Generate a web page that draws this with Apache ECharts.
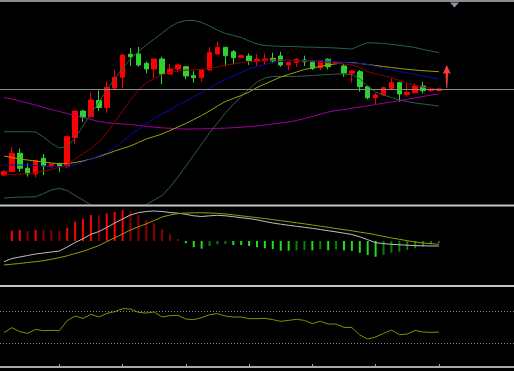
<!DOCTYPE html>
<html>
<head>
<meta charset="utf-8">
<script src="https://cdn.jsdelivr.net/npm/echarts@6/dist/echarts.min.js"></script>
<style>
html,body{margin:0;padding:0;background:#000;}
#c{width:514px;height:371px;}
</style>
</head>
<body>
<div id="c"></div>
<script>
// ---- data ----
const categories = ['1','2','3','4','5','6','7','8','9','10','11','12','13','14','15','16','17','18','19','20','21','22','23','24','25','26','27','28','29','30','31','32','33','34','35','36','37','38','39','40','41','42','43','44','45','46','47','48','49','50','51','52','53','54','55','56'];
const futureCats = ['F1','F2','F3','F4','F5','F6','F7','F8','F9'];

const openP  = [29,32.3,50.7,35.7,30,45.7,37.3,39.7,37.3,66.5,93,87.3,103.5,96.5,116,126.7,149.7,150,140.7,135,145,130,135,137.3,128.3,126.3,134,150,156.7,152.3,146.7,148,143.3,143.3,145.7,148,139,141.7,144,143.3,136.3,144.7,140.7,138,130.7,132.3,117.3,106.3,109,115.7,121.3,109.7,111.3,118,113.3,113.3];
const closeP = [32.3,50.7,35.7,30,43.3,38,40,37.3,67.3,93,86.7,104,96.5,116.7,126.7,149,147.3,139,135,145,130,135,139,128,126.3,134,151.3,156.7,148.3,146.3,148.3,143.3,144.7,145,143,139,141.7,144.7,142.3,135.7,143.3,137.3,141.7,131,133,117.3,106.3,109,116.3,121.3,110,111.7,118,113.3,114.7,115];
const lowP   = [28,32,32.3,27.3,26.7,29,36.5,32.3,36,60,82,87,93,91.3,114,116,138.3,137.3,130.7,125.7,120,129.5,132.3,124.7,121.3,122.3,133.5,149.5,138,139.7,146.5,139,138,139,140.7,137.3,134,137.3,138,134,134,134.7,140,127.3,121.3,112.3,104.7,100,108.5,114,102.3,107.3,110.7,110.7,112.3,113];
const highP  = [34,57,55.5,40.7,44,50,41,41.3,67.5,93,94,111.5,113.3,122.3,134,150,156,157,142.3,145,147.3,140,140.7,137.5,133.3,134.5,156.7,162.3,157,154,149.5,150.7,150,150.7,151.3,152.3,142,145.7,148.3,144,144,145.7,142.3,140,134,134,118,110.7,117.3,125.7,122.3,120.7,120.7,122.3,116.3,116];

const maFast = [29,29.5,30,30.5,31,33,34.5,36.7,39.5,45,50.5,55.5,62,71,82,93,104,114,121,125.5,129.5,131.7,133,134,134.3,134.5,135.5,137,139,140,141.5,142.5,142.5,143.5,144,144,144,143.5,143,142.5,141.7,141.2,140.7,140,139,136.5,132.3,130.2,128.3,126.2,123.4,120.7,118.5,117,115.7,114.5];
const bbMid  = [39,39,39,39,38.5,38,37.7,37.3,37.5,39,42,45,48,51.5,56.5,62.5,69,74.5,80,85.5,90,94,99,103,107.5,111.5,116,120.5,124.5,128,131.5,135,137.5,139.5,141.5,142.5,143,143.3,143.3,143.3,143.3,143,142.3,141.5,141,140.5,139.5,137.5,135.5,134,132.5,131,129.5,128,126.5,125];
const maMid  = [48,46.5,45,44,43,42,41,40.3,40.5,41.5,43,45,47.5,50,53,55.5,58,61.5,65,67.5,70,73.5,77,80.5,84.5,88.5,93,98,102.5,105.5,108.5,112,116.5,120,123.5,127,129.5,132,134.5,136,137.5,139,140.2,141.5,141.5,140.5,139.5,138.5,137.5,136.5,135.5,134.7,134,133.3,132.8,132.3];
const maSlow = [106.5,105,103,101,99,96.5,94.5,92.5,90.5,88.5,86.5,84.5,82.5,81.3,80.5,80,79.5,78.5,77.5,76.8,76.2,75.7,75.2,75,75,75.2,75.4,75.6,75.9,76.3,76.8,77.3,78,79,80,81,82,83.5,85.5,87.5,89.7,92,93.5,94.5,95.8,97,98.2,99.5,100.8,102,103.3,104.7,106,107.5,108.8,110];
const bbUpper = [72.3,72.3,72.3,72.3,72,67,60.7,56,57.5,66,78,90,102,114,125,136,145,152.5,159,165,171,177,181.5,183.5,183.5,181.5,178,174,170.5,168.5,166.5,163,160,158.5,158,157.7,157.5,157.3,157,156.8,156.5,156.3,156,155.5,155,158.5,161.3,161,160.5,159.7,158.7,157.7,156.5,154.5,153,151.3];
const bbLower = [6,6.5,7,7,7.3,10.5,14,15.7,13.5,8.5,4,-1,-5,-8,-10,-11,-9,-5,-0.5,4,8.5,17,27,38,49,60,71,81,91,99.5,107.5,115,122,126,127.5,127.5,127.5,127.7,128,128.5,129,129.5,130,130,129.5,125,118,112,109,106.5,104,102.5,101,100,99,98];

const macdHist = [null,10.3,11,10,11.3,11.2,11,10,13.3,19.3,22.3,26,25.7,27.7,29,31,29.7,26,21,17.7,11.7,6.7,2,-2.3,-6.3,-7.7,-5,-3.3,-3,-4,-4,-5,-6.3,-7.3,-8,-9.7,-9.7,-9.2,-9,-9.3,-8.3,-9.2,-8.4,-9.3,-9.8,-11.7,-14,-15.7,-14,-11.7,-10.7,-9,-7.3,-5.7,-3.3,-2.3];
const macdLine = [-20.7,-17.5,-16,-14.5,-13,-12,-11,-10,-6,-1.5,2.3,6.7,9.5,13.5,18,22,26,28.3,29.5,30,29.5,28.5,27.8,26.7,25.2,24.5,25.2,25.7,25.2,24.3,23.3,22.4,21.2,19.5,18,16.8,15.7,14.7,13.7,12.7,11.5,10.3,9.1,7.8,6.5,4.2,1.3,-1.7,-2.6,-3.3,-3.8,-4.2,-4.6,-4.8,-5,-5];
const signalLine = [-24,-23.2,-22.5,-21.5,-20.7,-19.7,-18.3,-16.7,-14.8,-12.5,-10.3,-7.5,-4.5,-0.7,3.2,7,11,14.2,17.2,20.5,24,26,27.4,28,28.2,28.3,28,27.7,27,26.2,25.2,24.3,23.4,22.4,21.4,20.3,19.3,18.2,17.2,16,14.8,13.7,12.5,11.3,10.2,8.9,7.7,6.2,4.6,3.1,1.7,0.3,-1,-2,-2.7,-3.3];

const rsi = [42.9,49.2,44.2,42,47,45.4,45.8,45.4,57.9,63.7,60.8,65.8,62.5,67,69.2,72.9,72.5,68.3,67.5,68.8,62.5,64.2,64.6,60,59.2,61.7,65.4,66.7,63.7,62.5,62.5,60.4,60.4,60.8,59.2,57.1,58.3,59.6,58.3,54.2,57.1,53.7,53.7,49.6,49.2,40,35,37.5,42,46.2,40.4,41.2,45.8,43.7,43.3,43.7];
const rsiLevels = [70, 30];
const lastPrice = closeP[closeP.length - 1];

// ---- chart ----
const allCats = categories.concat(futureCats);
const candleData = openP.map((o, i) => [o, closeP[i], lowP[i], highP[i]]);

const chart = echarts.init(document.getElementById('c'), null, {renderer: 'canvas'});

function hiddenX(gi) {
  return {type: 'category', gridIndex: gi, data: allCats, boundaryGap: true, show: false};
}
function hiddenY(gi, mn, mx) {
  return {type: 'value', gridIndex: gi, min: mn, max: mx, show: false, splitLine: {show: false}};
}
function line(name, data, color, xi, yi, extra) {
  return Object.assign({
    name, type: 'line', data, xAxisIndex: xi, yAxisIndex: yi,
    symbol: 'none', showSymbol: false, smooth: false, clip: true,
    lineStyle: {color, width: 1}, itemStyle: {color}, silent: true
  }, extra || {});
}

const option = {
  animation: false,
  backgroundColor: '#000000',
  grid: [
    {left: -2, width: 520, top: 2, height: 202},
    {left: -2, width: 520, top: 207, height: 78},
    {left: -2, width: 520, top: 287, height: 80}
  ],
  xAxis: [
    hiddenX(0),
    hiddenX(1),
    {
      type: 'category', gridIndex: 2, data: allCats, boundaryGap: true,
      axisLine: {show: true, lineStyle: {color: '#a8a8a8', width: 2}},
      axisTick: {show: true, inside: true, length: 3, alignWithLabel: true,
        interval: function (i) { return i % 8 === 7 && i < categories.length; },
        lineStyle: {color: '#a8a8a8', width: 1}},
      axisLabel: {show: false},
      splitLine: {show: false}
    }
  ],
  yAxis: [hiddenY(0, 0, 202), hiddenY(1, -44, 34), hiddenY(2, 0, 100)],
  series: [
    line('BB upper', bbUpper, '#2c5e4b', 0, 0),
    line('BB lower', bbLower, '#2c5e4b', 0, 0),
    line('MA slow', maSlow, '#9c009c', 0, 0),
    line('MA mid', maMid, '#a0a000', 0, 0),
    line('BB mid', bbMid, '#0a0ab0', 0, 0),
    line('MA fast', maFast, '#8b0000', 0, 0),
    {
      name: 'Price', type: 'candlestick', data: candleData, xAxisIndex: 0, yAxisIndex: 0,
      barWidth: 5,
      itemStyle: {color: '#ff0000', color0: '#2fd22f', borderColor: '#ff0000', borderColor0: '#2fd22f', borderWidth: 1},
      markLine: {
        silent: true, symbol: 'none', label: {show: false},
        lineStyle: {color: '#8a8a8a', width: 1, type: 'solid'},
        data: [{yAxis: lastPrice}]
      },
      markPoint: {
        silent: true,
        symbol: 'path://M40,0 L80,90 L52,80 L45,230 L35,230 L28,80 L0,90 Z',
        symbolSize: [8, 23],
        label: {show: false},
        itemStyle: {color: '#ff3b3b'},
        data: [{coord: ['F1', lastPrice + 12.5]}]
      }
    },
    {
      name: 'MACD hist', type: 'bar', data: macdHist, xAxisIndex: 1, yAxisIndex: 1,
      barWidth: 2, silent: true,
      itemStyle: {
        color: function (p) {
          const i = p.dataIndex, v = macdHist[i], prev = macdHist[i - 1];
          if (v >= 0) return (prev == null || v >= prev) ? '#ff0000' : '#8b0000';
          return (prev == null || prev >= 0 || v <= prev) ? '#1fe01f' : '#0b7d0b';
        }
      }
    },
    line('MACD', macdLine, '#c0c0c0', 1, 1),
    line('Signal', signalLine, '#9a9a00', 1, 1),
    line('RSI', rsi, '#8b8b00', 2, 2, {
      markLine: {
        silent: true, symbol: 'none', label: {show: false},
        lineStyle: {color: '#8c8c8c', width: 1, type: [1, 2]},
        data: rsiLevels.map(v => ({yAxis: v}))
      }
    })
  ],
  graphic: [
    {type: 'rect', z: 100, shape: {x: 0, y: 0, width: 514, height: 2}, style: {fill: '#8c8c8c'}},
    {type: 'rect', z: 100, shape: {x: 0, y: 204.5, width: 514, height: 2}, style: {fill: '#c4c4c4'}},
    {type: 'rect', z: 100, shape: {x: 0, y: 285, width: 514, height: 2}, style: {fill: '#c4c4c4'}},
    {type: 'polygon', z: 100, shape: {points: [[450, 2.5], [459, 2.5], [454.5, 7.5]]}, style: {fill: '#8595a8'}}
  ]
};
chart.setOption(option);
</script>
</body>
</html>
